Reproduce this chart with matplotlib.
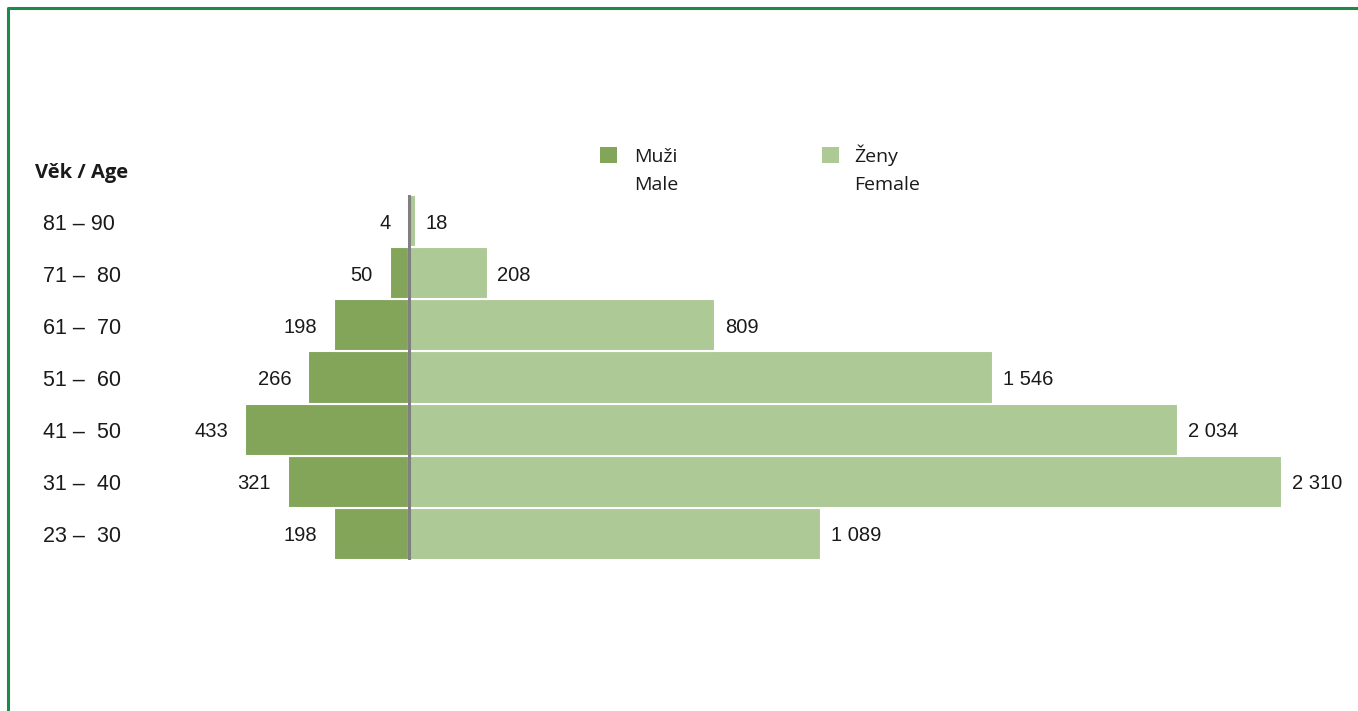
import matplotlib
matplotlib.use('Agg')
import matplotlib.pyplot as plt
from matplotlib.patches import Rectangle
from matplotlib.lines import Line2D

ages = ['23 \u2013  30', '31 \u2013  40', '41 \u2013  50', '51 \u2013  60',
        '61 \u2013  70', '71 \u2013  80', '81 \u2013 90']
male = [198, 321, 433, 266, 198, 50, 4]
female = [1089, 2310, 2034, 1546, 809, 208, 18]
male_label = 'Muži\nMale'
female_label = 'Ženy\nFemale'
age_title = 'Věk / Age'

male_color = '#82a55a'
female_color = '#adc996'
W, H = 1358, 711


def fmt(v):
    return '{:,}'.format(v).replace(',', ' ')


def fx(px):
    return px / W


def fy(py):
    return 1 - py / H


fig = plt.figure(figsize=(W / 100, H / 100), dpi=100)
ax = fig.add_axes([fx(100), fy(560), fx(1340) - fx(100), fy(195) - fy(560)])

y = list(range(len(ages)))
ax.barh(y, [-m for m in male], height=1.0, color=male_color, edgecolor='white', linewidth=1.5)
ax.barh(y, female, height=1.0, color=female_color, edgecolor='white', linewidth=1.5)
ax.axvline(0, color='#808080', lw=2.2, zorder=5)

ax.set_xlim(-817, 2463)
ax.set_ylim(-0.5, len(ages) - 0.5)
ax.axis('off')

num_font = dict(family='Liberation Sans', fontsize=14.5, color='#1a1a1a')
for i in y:
    ax.annotate(fmt(male[i]), (-male[i], i), xytext=(-17, -2), textcoords='offset pixels',
                ha='right', va='center', **num_font)
    ax.annotate(fmt(female[i]), (female[i], i), xytext=(10, -2), textcoords='offset pixels',
                ha='left', va='center', **num_font)

# age labels at left edge of the figure, aligned to the bar rows
for i, lab in enumerate(ages):
    ax.annotate(lab, (fx(43), i), xycoords=('figure fraction', 'data'),
                xytext=(0, -3), textcoords='offset pixels', ha='left', va='center',
                family='Liberation Sans', fontsize=15.5, color='#1a1a1a')

fig.text(fx(35), fy(173), age_title, family='Open Sans', fontweight='bold',
         fontsize=14.5, ha='left', va='center', color='#1a1a1a')

# legend
for sx, tx, col, lab in [(600, 634, male_color, male_label), (822, 854, female_color, female_label)]:
    fig.add_artist(Rectangle((fx(sx), fy(163)), fx(17), 16 / H, transform=fig.transFigure,
                             facecolor=col, edgecolor='none'))
    for k, line in enumerate(lab.split('\n')):
        fig.text(fx(tx), fy(162 + 28 * k), line, family='Open Sans', fontsize=14,
                 ha='left', va='baseline', color='#1a1a1a')

# frame
fig.add_artist(Line2D([fx(8), fx(8), fx(W)], [fy(H), fy(8), fy(8)], transform=fig.transFigure,
                      color='#1e8a4a', lw=2.2))

fig.savefig('out.png', dpi=100)
